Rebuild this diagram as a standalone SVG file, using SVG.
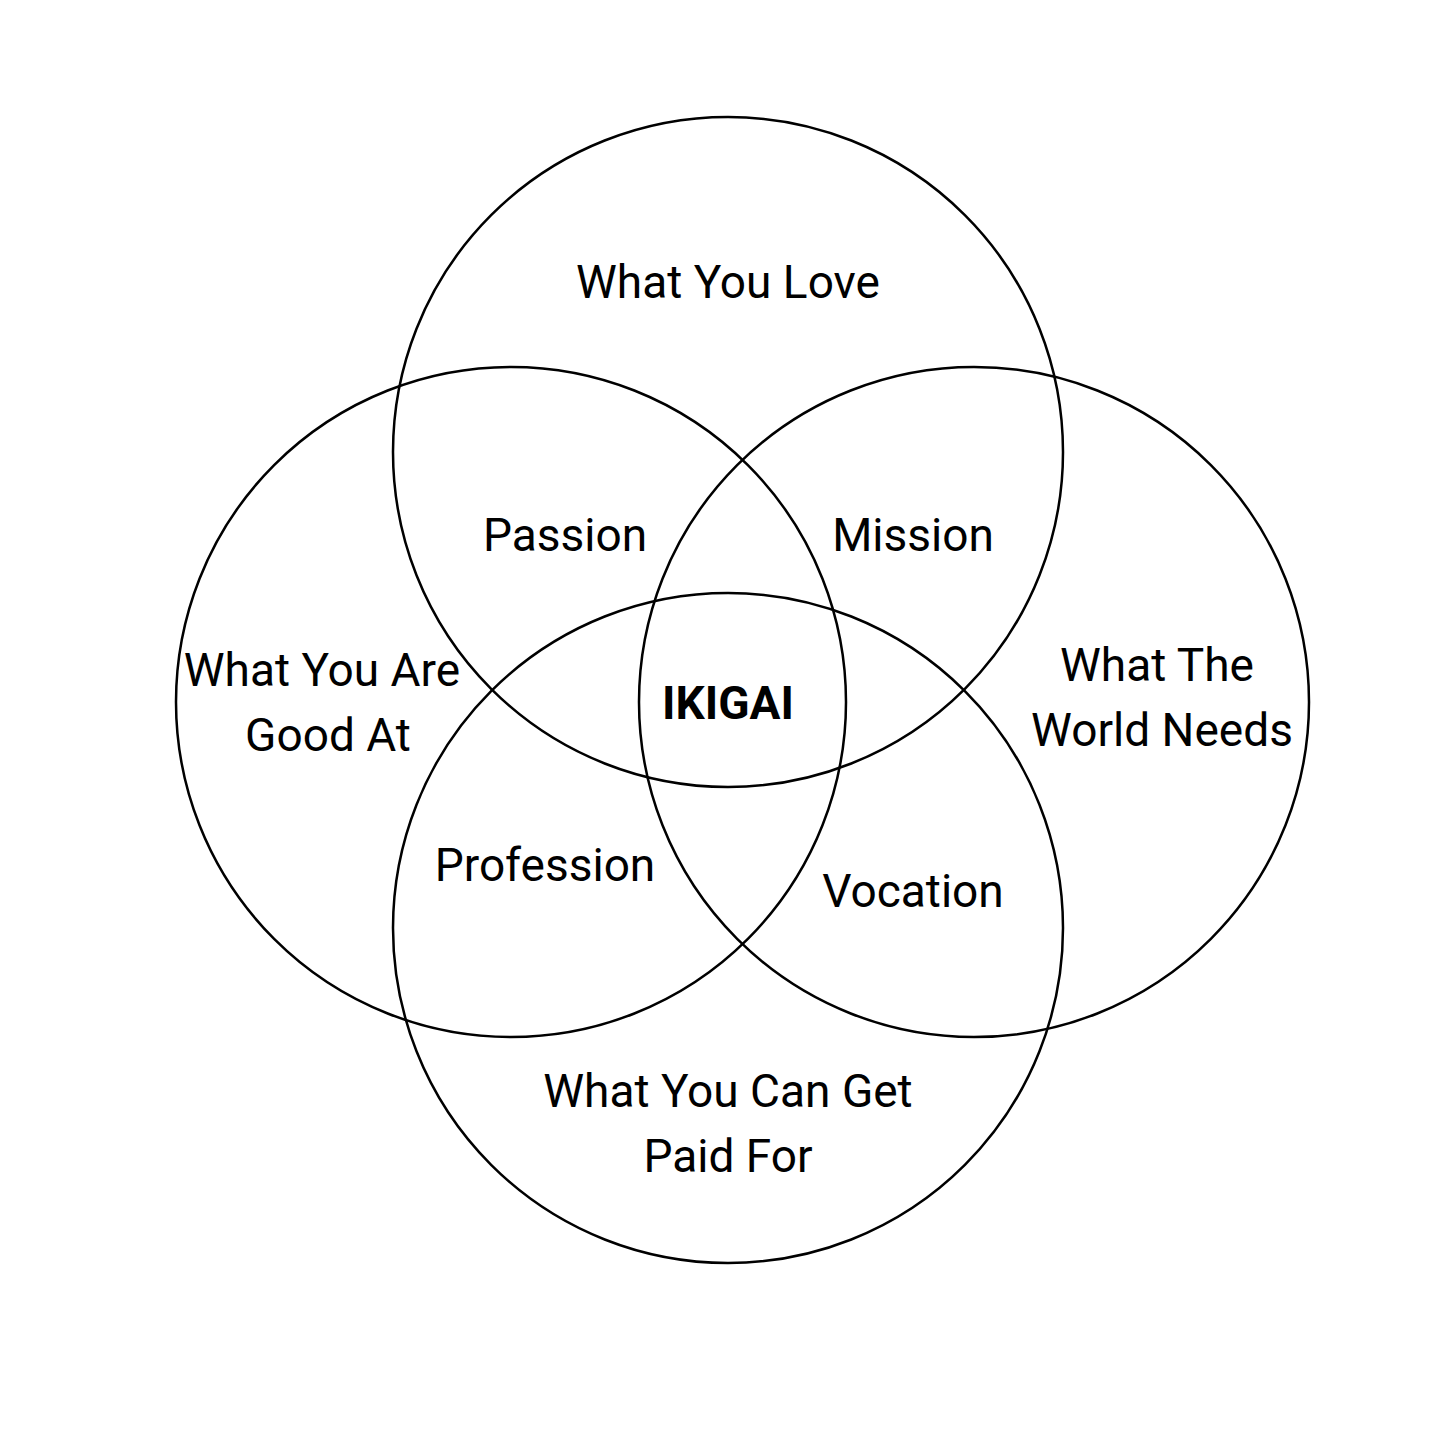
<svg xmlns="http://www.w3.org/2000/svg" width="1456" height="1456" viewBox="0 0 1456 1456">
<style>
.c{fill:none;stroke:#000;stroke-width:2.5}
.t{font-family:Roboto,"Liberation Sans",sans-serif;font-size:46px;fill:#000;text-anchor:middle}
.b{font-weight:bold}
</style>
<rect width="1456" height="1456" fill="#fff"/>
<g id="circles">
<circle id="love" class="c" cx="728" cy="452" r="335"/>
<circle id="good" class="c" cx="511" cy="702" r="335"/>
<circle id="world" class="c" cx="974" cy="702" r="335"/>
<circle id="paid" class="c" cx="728" cy="928" r="335"/>
</g>
<g id="labels">
<text class="t" x="728" y="298">What You Love</text>
<text class="t" x="565" y="551">Passion</text>
<text class="t" x="913" y="551">Mission</text>
<text class="t" x="322" y="686">What You Are</text>
<text class="t" x="328" y="751">Good At</text>
<text class="t b" x="728" y="719">IKIGAI</text>
<text class="t" x="1157" y="681">What The</text>
<text class="t" x="1162" y="746">World Needs</text>
<text class="t" x="545" y="881">Profession</text>
<text class="t" x="913" y="907">Vocation</text>
<text class="t" x="728" y="1107">What You Can Get</text>
<text class="t" x="728" y="1172">Paid For</text>
</g>
</svg>
